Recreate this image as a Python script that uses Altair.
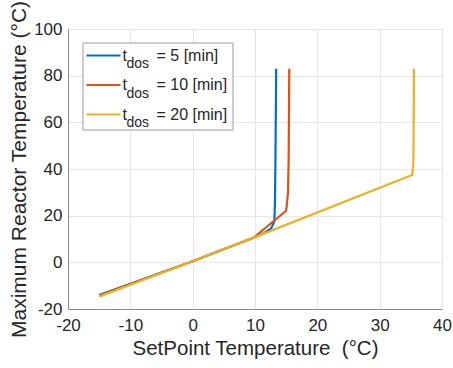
import altair as alt
import pandas as pd

# ---- data ----
series = ["t_dos = 5 [min]", "t_dos = 10 [min]", "t_dos = 20 [min]"]
legend_rest = ["= 5 [min]", "= 10 [min]", "= 20 [min]"]
colors = ["#0072BD", "#D95319", "#EDB120"]

blue_x = [-15.0, 0.0, 10.2, 11.5, 12.6, 13.1, 13.2, 13.3, 13.4]
blue_y = [-14.0, 0.5, 11.0, 12.6, 14.6, 17.5, 25.0, 50.0, 83.0]

red_x = [-15.0, 0.0, 9.8, 15.0, 15.3, 15.4, 15.5]
red_y = [-14.3, 0.5, 10.6, 22.1, 30.0, 45.0, 83.0]

yel_x = [-15.0, 0.0, 10.0, 35.2, 35.4, 35.45, 35.5]
yel_y = [-14.7, 0.5, 10.8, 37.4, 41.5, 60.0, 83.0]

x_ticks = [-20, -10, 0, 10, 20, 30, 40]
y_ticks = [-20, 0, 20, 40, 60, 80, 100]

rows = []
for s, xs, ys in zip(series, [blue_x, red_x, yel_x], [blue_y, red_y, yel_y]):
    for k, (a, b) in enumerate(zip(xs, ys)):
        rows.append({"series": s, "x": a, "y": b, "k": k})
df = pd.DataFrame(rows)

leg = pd.DataFrame({"series": series, "rest": legend_rest, "i": [0, 1, 2],
                    "t": ["t"] * 3, "sub": ["dos"] * 3})

FONT = "Liberation Sans"
TXT = "#262626"

color_scale = alt.Scale(domain=series, range=colors)

xenc = alt.X("x:Q", scale=alt.Scale(domain=[-20, 40], nice=False),
             axis=alt.Axis(values=x_ticks, title="SetPoint Temperature \u00a0(°C)",
                           labelExpr="'' + datum.value", labelFlush=False,
                           labelFontSize=17, titleFontSize=20.5, labelPadding=8,
                           titlePadding=5, tickSize=0, grid=True))
yenc = alt.Y("y:Q", scale=alt.Scale(domain=[-20, 100], nice=False),
             axis=alt.Axis(values=y_ticks, title="Maximum Reactor Temperature (°C)",
                           labelExpr="'' + datum.value", labelFlush=False,
                           labelFontSize=17, titleFontSize=21, labelPadding=6,
                           titlePadding=4, tickSize=0, grid=True))

layers = []
for s in series:
    layers.append(
        alt.Chart(df).transform_filter(alt.datum.series == s)
        .mark_line(strokeWidth=2.2)
        .encode(x=xenc, y=yenc, order="k:Q",
                color=alt.Color("series:N", scale=color_scale, legend=None))
    )

box = alt.Chart(pd.DataFrame({"a": [0]})).mark_rect(
    fill="white", stroke="#9a9a9a", strokeWidth=1
).encode(x=alt.value(15), x2=alt.value(165), y=alt.value(14), y2=alt.value(101))

base = alt.Chart(leg).transform_calculate(
    ly="26.5 + 29.5 * datum.i", ty="31.5 + 29.5 * datum.i", sy="39.3 + 29.5 * datum.i")

leg_lines = base.mark_rule(strokeWidth=2.2).encode(
    x=alt.value(18.5), x2=alt.value(52.5),
    y=alt.Y("ly:Q", scale=None, axis=None),
    color=alt.Color("series:N", scale=color_scale, legend=None))

leg_t = base.mark_text(align="left", baseline="alphabetic", font=FONT, fontSize=16,
                       color=TXT).encode(
    x=alt.value(54.5), y=alt.Y("ty:Q", scale=None, axis=None), text="t:N")

leg_sub = base.mark_text(align="left", baseline="alphabetic", font=FONT, fontSize=14,
                         color=TXT).encode(
    x=alt.value(58.5), y=alt.Y("sy:Q", scale=None, axis=None), text="sub:N")

leg_rest = base.mark_text(align="left", baseline="alphabetic", font=FONT, fontSize=16,
                          color=TXT).encode(
    x=alt.value(88.5), y=alt.Y("ty:Q", scale=None, axis=None), text="rest:N")

chart = alt.layer(*layers, box, leg_lines, leg_t, leg_sub, leg_rest).properties(
    width=374, height=280,
    autosize=alt.AutoSizeParams(type="none"),
    padding={"left": 68, "top": 29, "right": 11, "bottom": 59},
    background="white",
).configure_axis(
    labelFont=FONT, titleFont=FONT, labelColor=TXT, titleColor=TXT,
    domainColor="#8a8a8a", gridColor="#e6e6e6", titleFontWeight="normal",
).configure_view(stroke="#8a8a8a", strokeWidth=1)

chart.save("out.html", embed_options={"renderer": "svg", "actions": False})
